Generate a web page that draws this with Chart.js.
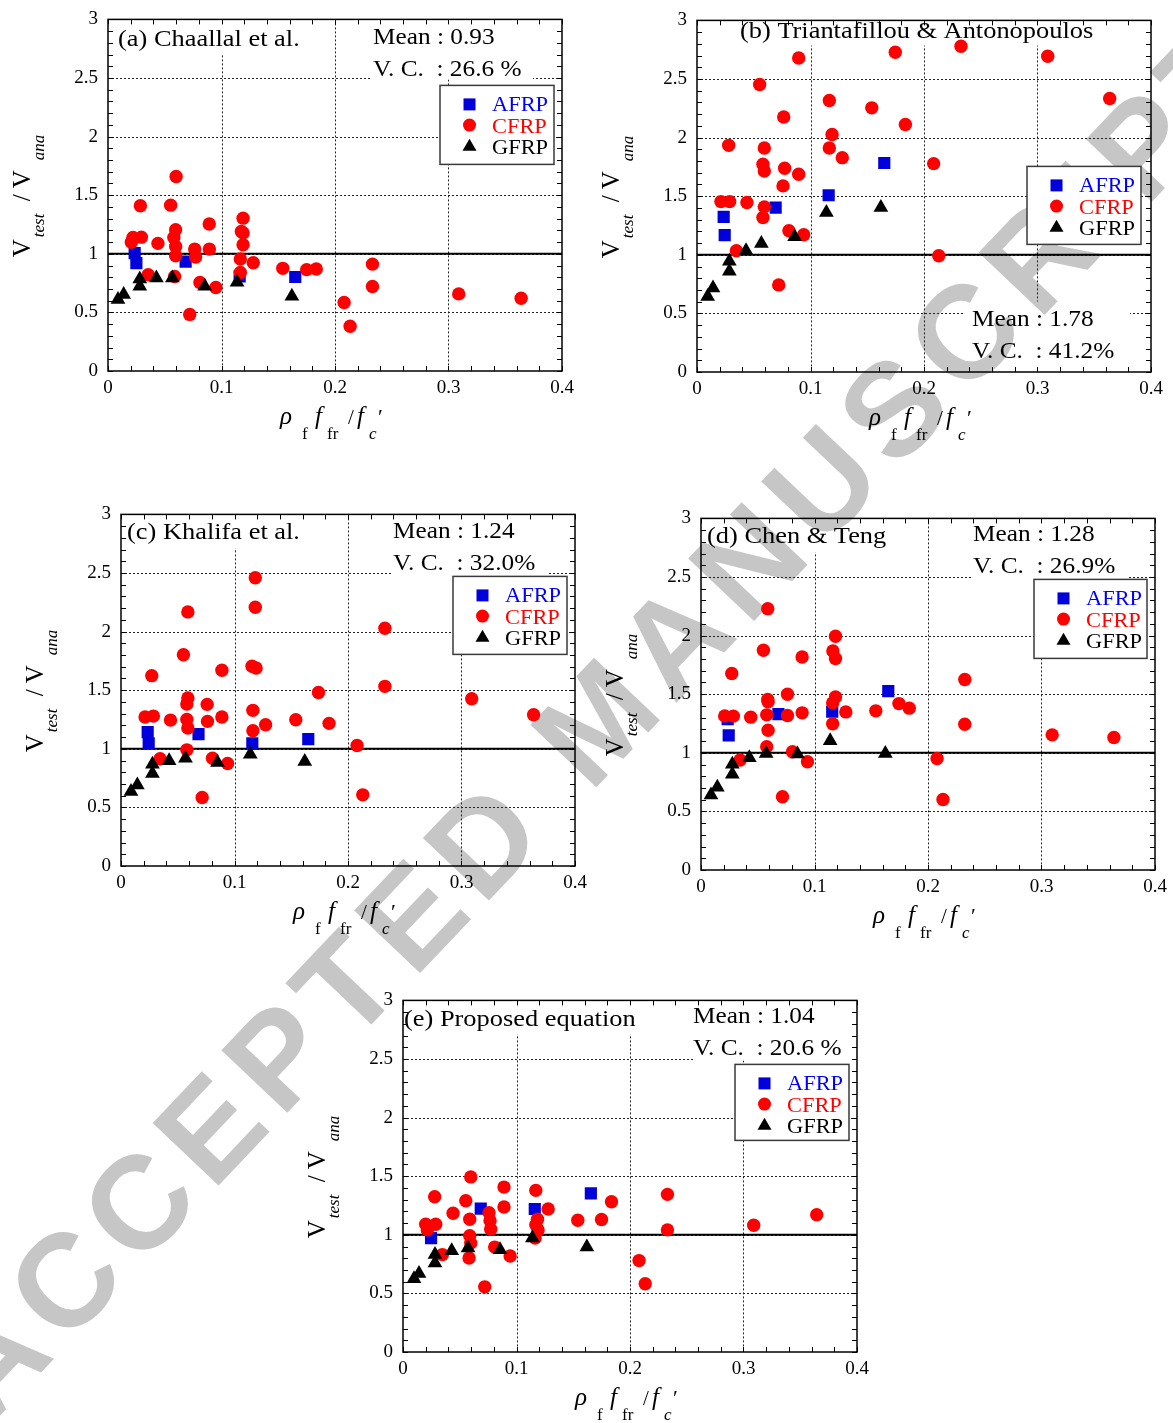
<!doctype html>
<html lang="en">
<head>
<meta charset="utf-8">
<title>V_test / V_ana vs rho_f f_fr / f_c'</title>
<style>
  html,body{width:1173px;height:1423px;margin:0;padding:0;overflow:hidden;background:#fff;}
  .wm{position:absolute;left:602px;top:716px;transform:translate(-50%,-50%) rotate(-46.5deg);
      font:bold 132px "Liberation Sans",Arial,sans-serif;color:#c6c6c6;white-space:nowrap;
      letter-spacing:12px;line-height:1;}
  canvas{position:absolute;}
</style>
</head>
<body>
<div class="wm">ACCEPTED MANUSCRIPT</div>
<canvas id="chart0"></canvas>
<canvas id="chart1"></canvas>
<canvas id="chart2"></canvas>
<canvas id="chart3"></canvas>
<canvas id="chart4"></canvas>

<script src="https://cdn.jsdelivr.net/npm/chart.js@4.4.0/dist/chart.umd.min.js"></script>
<script>
// axes
var xTickValues = [0, 0.1, 0.2, 0.3, 0.4];
var yTickValues = [0, 0.5, 1, 1.5, 2, 2.5, 3];
var refLineX = [0, 0.4];
var refLineY = [1, 1];
var seriesNames = ['AFRP', 'CFRP', 'GFRP'];

var panelTitles = ['(a) Chaallal et al.', '(b) Triantafillou & Antonopoulos', '(c) Khalifa et al.', '(d) Chen & Teng', '(e) Proposed equation'];
var panelMeans = ['0.93', '1.78', '1.24', '1.28', '1.04'];
var panelVCs = ['26.6 %', '41.2%', '32.0%', '26.9%', '20.6 %'];

// (a) Chaallal et al.  [x, y]
var chaallalAFRP = [[0.0235,1.006],[0.025,0.921],[0.0684,0.933],[0.116,0.808],[0.165,0.802]];
var chaallalGFRP = [[0.0088,0.610],[0.0138,0.652],[0.028,0.785],[0.028,0.723],[0.0426,0.794],[0.0567,0.794],[0.0852,0.723],[0.1137,0.757],[0.162,0.638]];
var chaallalCFRP = [[0.0600,1.660],[0.0285,1.410],[0.0552,1.415],[0.119,1.304],[0.0892,1.254],[0.022,1.140],[0.0206,1.099],[0.0294,1.142],[0.044,1.089],
  [0.0596,1.205],[0.058,1.140],[0.0596,1.063],[0.0596,0.984],[0.0764,1.040],[0.0772,0.972],[0.0893,1.040],[0.1175,1.191],[0.119,1.177],
  [0.119,1.077],[0.1166,0.955],[0.128,0.923],[0.1166,0.840],[0.0354,0.822],[0.0587,0.806],[0.081,0.756],[0.095,0.712],[0.072,0.483],
  [0.154,0.876],[0.175,0.865],[0.1835,0.870],[0.233,0.912],[0.233,0.721],[0.208,0.585],[0.2133,0.382],[0.309,0.658],[0.364,0.621]];

// (b) Triantafillou & Antonopoulos
var triantAFRP = [[0.0235,1.324],[0.0244,1.168],[0.0693,1.403],[0.116,1.508],[0.165,1.783]];
var triantGFRP = [[0.0094,0.644],[0.0141,0.717],[0.0285,0.944],[0.0285,0.859],[0.0432,1.035],[0.0567,1.097],[0.086,1.154],[0.114,1.361],[0.162,1.403]];
var triantCFRP = [[0.0896,2.679],[0.1747,2.728],[0.2326,2.779],[0.309,2.694],[0.0552,2.453],[0.3636,2.333],[0.1166,2.316],[0.154,2.254],
  [0.0764,2.176],[0.1836,2.112],[0.119,2.027],[0.0279,1.934],[0.0593,1.911],[0.1166,1.911],[0.128,1.829],[0.0581,1.772],[0.0593,1.715],
  [0.0772,1.738],[0.0896,1.687],[0.2085,1.778],[0.0758,1.588],[0.0211,1.454],[0.0288,1.454],[0.044,1.446],[0.0593,1.409],[0.0581,1.318],
  [0.081,1.205],[0.094,1.171],[0.0347,1.035],[0.213,0.992],[0.072,0.743]];

// (c) Khalifa et al.
var khalifaAFRP = [[0.0235,1.142],[0.0244,1.046],[0.0683,1.125],[0.1157,1.046],[0.165,1.083]];
var khalifaGFRP = [[0.0088,0.635],[0.0144,0.692],[0.0277,0.869],[0.0277,0.789],[0.0424,0.897],[0.0568,0.920],[0.085,0.883],[0.1139,0.954],[0.1619,0.892]];
var khalifaCFRP = [[0.1183,2.459],[0.1183,2.208],[0.0589,2.168],[0.2325,2.028],[0.055,1.803],[0.0271,1.624],[0.0889,1.670],[0.1154,1.704],
  [0.119,1.689],[0.2325,1.533],[0.309,1.427],[0.174,1.481],[0.0589,1.433],[0.058,1.382],[0.0759,1.379],[0.0212,1.271],[0.0285,1.279],
  [0.0436,1.245],[0.058,1.251],[0.0589,1.177],[0.0762,1.234],[0.0889,1.271],[0.1162,1.328],[0.1162,1.154],[0.1274,1.205],[0.154,1.248],
  [0.1833,1.217],[0.3635,1.291],[0.208,1.028],[0.058,0.991],[0.0344,0.915],[0.0806,0.920],[0.0939,0.875],[0.213,0.607],[0.0715,0.584]];

// (d) Chen & Teng
var chenAFRP = [[0.0235,1.287],[0.0244,1.148],[0.0682,1.330],[0.1156,1.352],[0.165,1.526]];
var chenGFRP = [[0.0088,0.639],[0.0144,0.705],[0.0276,0.903],[0.0276,0.818],[0.0426,0.957],[0.0574,0.994],[0.085,0.989],[0.1138,1.102],[0.1624,0.994]];
var chenCFRP = [[0.0588,2.230],[0.1185,1.994],[0.055,1.875],[0.1162,1.869],[0.1185,1.804],[0.0891,1.818],[0.0271,1.676],[0.2324,1.625],
  [0.0762,1.500],[0.0588,1.455],[0.0591,1.435],[0.1185,1.477],[0.116,1.426],[0.1744,1.420],[0.1835,1.381],[0.154,1.358],[0.1276,1.349],
  [0.0891,1.341],[0.0209,1.315],[0.0285,1.313],[0.0438,1.304],[0.0579,1.324],[0.0762,1.318],[0.116,1.247],[0.2324,1.244],[0.0591,1.193],
  [0.3094,1.153],[0.3638,1.131],[0.0579,1.051],[0.0806,1.009],[0.0344,0.938],[0.0938,0.923],[0.208,0.952],[0.0718,0.625],[0.2132,0.602]];

// (e) Proposed equation
var proposedAFRP = [[0.0247,0.972],[0.0685,1.223],[0.1161,1.220],[0.1655,1.353]];
var proposedGFRP = [[0.0097,0.624],[0.0141,0.669],[0.0282,0.831],[0.0282,0.760],[0.0429,0.864],[0.0573,0.887],[0.0855,0.873],[0.114,0.972],[0.162,0.895]];
var proposedCFRP = [[0.0597,1.494],[0.089,1.407],[0.0279,1.325],[0.117,1.379],[0.233,1.345],[0.0553,1.291],[0.1837,1.282],[0.089,1.237],
  [0.0441,1.184],[0.1279,1.220],[0.0758,1.189],[0.0767,1.119],[0.0773,1.048],[0.0588,1.133],[0.1185,1.133],[0.117,1.085],[0.119,1.042],
  [0.1164,0.972],[0.154,1.124],[0.1749,1.130],[0.3645,1.172],[0.309,1.082],[0.233,1.042],[0.020,1.090],[0.0288,1.090],[0.0215,1.042],
  [0.0588,0.992],[0.0597,0.929],[0.0582,0.802],[0.0808,0.895],[0.0944,0.819],[0.0347,0.831],[0.208,0.780],[0.2134,0.582],[0.072,0.556]];

var SERIF = '"Liberation Serif","Times New Roman",serif';
var PW = 454, PH = 353, PADL = 110, PADT = 20, PADR = 20, PADB = 80;

// page placement of each plot area, text spots relative to it
var layout = [
  {L:108, T:18,  title:[10,27], stats:[265,25],  legend:[332,66,114,79],  holes:[[0,0,202,35],[264,0,161,60]]},
  {L:697, T:19,  title:[43,18], stats:[275,306], legend:[330,146,114,78], holes:[[38,0,365,25],[268,281,165,73]]},
  {L:121, T:513, title:[6,25],  stats:[272,24],  legend:[332,62,114,78],  holes:[[0,0,209,34],[272,0,155,62]]},
  {L:701, T:517, title:[6,25],  stats:[272,23],  legend:[333,61,113,79],  holes:[[0,0,195,34],[272,0,155,62]]},
  {L:403, T:999, title:[1,26],  stats:[290,23],  legend:[332,64,114,76],  holes:[[0,0,288,34],[290,0,164,60]]}
];

var styles = [
  {style:'rect', color:'#0000dd', text:'#0000ff'},
  {style:'circle', color:'#ff0000', text:'#ff0000'},
  {style:'triangle', color:'#000000', text:'#000000'}
];

function sText(ctx, txt, x, y, sx){
  ctx.save(); ctx.translate(x, y); ctx.scale(sx, 1); ctx.fillText(txt, 0, 0); ctx.restore();
}

function marker(ctx, st, x, y, col){
  ctx.fillStyle = col;
  ctx.beginPath();
  if (st == 'rect') ctx.rect(x - 6, y - 6, 12, 12);
  else if (st == 'circle') ctx.arc(x, y, 6.5, 0, Math.PI*2);
  else { ctx.moveTo(x, y - 7); ctx.lineTo(x + 7, y + 5); ctx.lineTo(x - 7, y + 5); ctx.closePath(); }
  ctx.fill();
}

function segs(ctx, list){
  list.forEach(function(s){ ctx.font = s[1]; ctx.fillText(s[0], s[2], s[3]); });
}

var decoPlugin = {
  id: 'deco',
  beforeDatasetsDraw: function(chart, args, o){
    var ctx = chart.ctx, a = chart.chartArea, xs = chart.scales.x, ys = chart.scales.y;
    var p = layout[o.n];
    ctx.save();
    ctx.beginPath();
    ctx.rect(a.left, a.top, a.width, a.height);
    p.holes.forEach(function(h){ ctx.rect(a.left + h[0], a.top + h[1], h[2], h[3]); });
    ctx.clip('evenodd');
    ctx.setLineDash([2, 2]); ctx.strokeStyle = '#222'; ctx.lineWidth = 1;
    ctx.beginPath();
    xTickValues.slice(1, -1).forEach(function(v){
      var px = Math.round(xs.getPixelForValue(v)) + 0.5;
      ctx.moveTo(px, a.top); ctx.lineTo(px, a.bottom);
    });
    yTickValues.slice(1, -1).forEach(function(v){
      var py = Math.round(ys.getPixelForValue(v)) + 0.5;
      ctx.moveTo(a.left, py); ctx.lineTo(a.right, py);
    });
    ctx.stroke();
    ctx.restore();

    // inward ticks on all four sides
    ctx.save();
    ctx.strokeStyle = '#000'; ctx.lineWidth = 1;
    ctx.beginPath();
    for (var i = 0; i <= 20; i++){
      var px = Math.round(xs.getPixelForValue(i * 0.02)) + 0.5;
      ctx.moveTo(px, a.bottom); ctx.lineTo(px, a.bottom - 5);
      ctx.moveTo(px, a.top); ctx.lineTo(px, a.top + 5);
    }
    for (var j = 0; j <= 30; j++){
      var py = Math.round(ys.getPixelForValue(j * 0.1)) + 0.5;
      ctx.moveTo(a.left, py); ctx.lineTo(a.left + 5, py);
      ctx.moveTo(a.right, py); ctx.lineTo(a.right - 5, py);
    }
    ctx.stroke();
    ctx.lineWidth = 1.5;
    ctx.strokeRect(a.left, a.top, a.width, a.height);
    ctx.restore();
  },
  afterDatasetsDraw: function(chart, args, o){
    var ctx = chart.ctx, a = chart.chartArea;
    var p = layout[o.n];
    ctx.save();
    ctx.textBaseline = 'alphabetic'; ctx.textAlign = 'left';

    // legend box
    var lx = a.left + p.legend[0], ly = a.top + p.legend[1];
    ctx.fillStyle = '#fff'; ctx.fillRect(lx, ly, p.legend[2], p.legend[3]);
    ctx.strokeStyle = '#3a3a3a'; ctx.lineWidth = 1.5; ctx.strokeRect(lx, ly, p.legend[2], p.legend[3]);
    seriesNames.forEach(function(nm, i){
      marker(ctx, styles[i].style, lx + 29.5, ly + 19 + i * 20.7, styles[i].color);
      ctx.fillStyle = styles[i].text; ctx.font = '20px ' + SERIF;
      sText(ctx, nm, lx + 52, ly + 26 + i * 21.5, 1.12);
    });

    // panel title and statistics
    ctx.fillStyle = '#000';
    ctx.font = '24px ' + SERIF;
    sText(ctx, panelTitles[o.n], a.left + p.title[0], a.top + p.title[1], 1.1);
    ctx.font = '23px ' + SERIF;
    sText(ctx, 'Mean : ' + panelMeans[o.n], a.left + p.stats[0], a.top + p.stats[1], 1.1);
    sText(ctx, 'V. C.  : ' + panelVCs[o.n], a.left + p.stats[0], a.top + p.stats[1] + 32, 1.1);

    // x axis title
    var cx = (a.left + a.right) / 2 - 55, by = a.bottom + 53;
    ctx.save(); ctx.translate(cx, by);
    segs(ctx, [
      ['\u03C1', 'italic 25px ' + SERIF, 0, 0],
      ['f', '17px ' + SERIF, 22, 15],
      ['f', 'italic 25px ' + SERIF, 35, 0],
      ['fr', '17px ' + SERIF, 47, 15],
      ['/', '21px ' + SERIF, 68, 0],
      ['f', 'italic 25px ' + SERIF, 77, 0],
      ['c', 'italic 17px ' + SERIF, 89, 15],
      ['\u2032', '22px ' + SERIF, 98, 0]
    ]);
    ctx.restore();

    // y axis title
    ctx.save(); ctx.translate(a.left - 78, (a.top + a.bottom) / 2 + 62); ctx.rotate(-Math.PI / 2);
    segs(ctx, [
      ['V', '25px ' + SERIF, 0, 0],
      ['test', 'italic 17px ' + SERIF, 20, 14],
      ['/', '25px ' + SERIF, 56, 0],
      ['V', '25px ' + SERIF, 69, 0],
      ['ana', 'italic 17px ' + SERIF, 97, 14]
    ]);
    ctx.restore();
    ctx.restore();
  }
};

function toXY(arr){ return arr.map(function(d){ return {x: d[0], y: d[1]}; }); }

var myChart = [];
function drawChart(n, afrp, cfrp, gfrp){
  var p = layout[n];
  var cv = document.getElementById('chart' + n);
  var W = PADL + PW + PADR, H = PADT + PH + PADB;
  cv.width = W; cv.height = H;
  cv.style.width = W + 'px'; cv.style.height = H + 'px';
  cv.style.left = (p.L - PADL) + 'px'; cv.style.top = (p.T - PADT) + 'px';
  var tickFont = {family: SERIF, size: 19};

  myChart[n] = new Chart(cv.getContext('2d'), {
    type: 'scatter',
    data: {
      datasets: [
        {label: 'GFRP', data: toXY(gfrp), pointStyle: 'triangle', pointRadius: 8.5, backgroundColor: styles[2].color, borderWidth: 0, order: 1},
        {label: 'CFRP', data: toXY(cfrp), pointStyle: 'circle', pointRadius: 6.7, backgroundColor: styles[1].color, borderWidth: 0, order: 2},
        {label: 'AFRP', data: toXY(afrp), pointStyle: 'rect', pointRadius: 8.6, backgroundColor: styles[0].color, borderWidth: 0, order: 3},
        {type: 'line', label: 'ref', data: refLineX.map(function(x, i){ return {x: x, y: refLineY[i]}; }),
         borderColor: '#000', borderWidth: 2, pointRadius: 0, fill: false, order: 4}
      ]
    },
    options: {
      responsive: false,
      animation: false,
      events: [],
      devicePixelRatio: 1,
      layout: {padding: {left: 0, top: PADT, right: PADR, bottom: 0}, autoPadding: false},
      plugins: {legend: {display: false}, tooltip: {enabled: false}, deco: {n: n}},
      scales: {
        x: {
          type: 'linear', position: 'bottom', min: 0, max: 0.4,
          afterBuildTicks: function(s){ s.ticks = xTickValues.map(function(v){ return {value: v}; }); },
          afterFit: function(s){ s.height = PADB; },
          grid: {display: false, drawTicks: false},
          border: {display: false},
          ticks: {color: '#000', padding: 6, font: tickFont, maxRotation: 0, callback: function(v){ return String(v); }}
        },
        y: {
          type: 'linear', position: 'left', min: 0, max: 3,
          afterBuildTicks: function(s){ s.ticks = yTickValues.map(function(v){ return {value: v}; }); },
          afterFit: function(s){ s.width = PADL; },
          grid: {display: false, drawTicks: false},
          border: {display: false},
          ticks: {color: '#000', padding: 10, font: tickFont, callback: function(v){ return String(v); }}
        }
      }
    },
    plugins: [decoPlugin]
  });
}

drawChart(0, chaallalAFRP, chaallalCFRP, chaallalGFRP);
drawChart(1, triantAFRP, triantCFRP, triantGFRP);
drawChart(2, khalifaAFRP, khalifaCFRP, khalifaGFRP);
drawChart(3, chenAFRP, chenCFRP, chenGFRP);
drawChart(4, proposedAFRP, proposedCFRP, proposedGFRP);
</script>
</body>
</html>
